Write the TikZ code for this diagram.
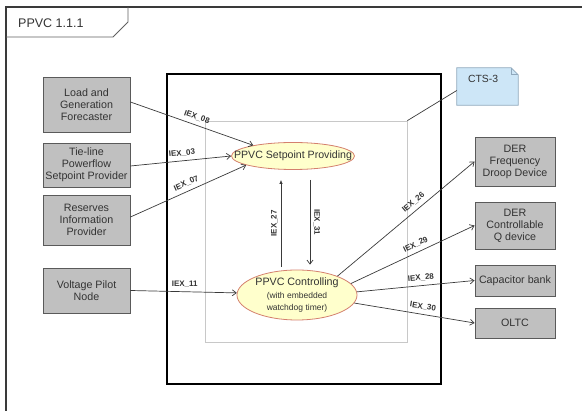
\documentclass[tikz,border=0pt]{standalone}
\usepackage{fontspec}
\setmainfont{Liberation Sans}
\usetikzlibrary{shapes.geometric,arrows.meta,calc}
\definecolor{boxgray}{HTML}{C0C0C0}
\definecolor{boxborder}{HTML}{5A5A5A}
\definecolor{textgray}{HTML}{333333}
\definecolor{ellfill}{HTML}{FFFFCC}
\definecolor{ellborder}{HTML}{D4806E}
\definecolor{notefill}{HTML}{CDE6F7}
\definecolor{noteborder}{HTML}{8FA8BC}
\definecolor{linegray}{HTML}{3A3A3A}
\definecolor{panelgray}{HTML}{C8C8C8}
\begin{document}
\begin{tikzpicture}[x=1pt,y=-1pt,
  srcbox/.style={draw=boxborder, fill=boxgray, line width=0.9pt, align=center,
    font=\fontsize{10.7}{12}\selectfont, text=textgray, inner sep=0pt, minimum width=87pt},
  dstbox/.style={srcbox, minimum width=80pt},
  funcell/.style={ellipse, draw=ellborder, fill=ellfill, line width=0.8pt, inner sep=0pt},
  conn/.style={draw=linegray, line width=0.7pt},
  arr/.style={conn, -{Straight Barb[length=4pt,width=6pt]}},
  lbl/.style={font=\fontsize{8}{9}\selectfont\bfseries, text=textgray, inner sep=1pt}
]
\useasboundingbox (0,0) rectangle (582,411);

% outer frame and tab
\draw[draw=linegray, line width=1.3pt] (582,7) -- (6,7) -- (6,411);
\draw[draw=linegray!80, line width=0.8pt] (128,7) -- (128,22) -- (113,37) -- (6,37);
\node[anchor=west, font=\fontsize{12.5}{14}\selectfont, text=textgray, inner sep=0pt] (title) at (18,23) {PPVC 1.1.1};

% system boundary boxes
\node[draw=black, line width=1.5pt, minimum width=274pt, minimum height=310pt, inner sep=0pt] (sys) at (304,229) {};
\node[draw=panelgray, line width=0.7pt, minimum width=202pt, minimum height=221pt, inner sep=0pt] (panel) at (306,231.5) {};

% note
\node[minimum width=61pt, minimum height=37pt, inner sep=0pt] (cts) at (487.5,86.5) {};
\filldraw[fill=notefill, draw=noteborder, line width=0.7pt]
  (cts.north west) -- ([xshift=-7pt]cts.north east) -- ([yshift=-7pt]cts.north east)
  -- (cts.south east) -- (cts.south west) -- cycle;
\draw[draw=noteborder, line width=0.6pt] ([xshift=-7pt]cts.north east) -- ([xshift=-7pt,yshift=-7pt]cts.north east) -- ([yshift=-7pt]cts.north east);
\node[anchor=north west, font=\fontsize{10.4}{12}\selectfont, text=textgray, inner sep=1pt] (ctstext) at ([xshift=10pt,yshift=-6pt]cts.north west) {CTS-3};
\draw[conn] (panel.north east) -- ([yshift=-4pt]cts.west);

% left boxes
\node[srcbox, minimum height=55pt] (load) at (86.5,104.5) {Load and\\Generation\\Forecaster};
\node[srcbox, minimum height=44pt] (tie) at (86.5,165) {Tie-line\\Powerflow\\Setpoint Provider};
\node[srcbox, minimum height=50pt] (res) at (86.5,220) {Reserves\\Information\\Provider};
\node[srcbox, minimum height=45pt] (vpn) at (86.5,290.5) {Voltage Pilot\\Node};

% right boxes
\node[dstbox, minimum height=49pt] (derf) at (515,161.5) {DER\\Frequency\\Droop Device};
\node[dstbox, minimum height=47pt] (derq) at (515,225.5) {DER\\Controllable\\Q device};
\node[dstbox, minimum height=31pt] (cap) at (515,280.5) {Capacitor bank};
\node[dstbox, minimum height=30pt] (oltc) at (515,323) {OLTC};

% functions
\node[funcell, minimum width=123pt, minimum height=27pt,
  label={[font=\fontsize{10.6}{12}\selectfont, text=textgray, inner sep=0pt]center:PPVC Setpoint Providing}] (setp) at (293,156) {};
\node[funcell, minimum width=120pt, minimum height=50pt,
  label={[align=center, text=textgray, inner sep=0pt]center:{\fontsize{10.7}{12}\selectfont PPVC Controlling}\\[1pt]{\fontsize{8.5}{10}\selectfont (with embedded}\\{\fontsize{8.5}{10}\selectfont watchdog timer)}}] (ctrl) at (297,295) {};

% inputs
\draw[arr] ([yshift=2.5pt]load.east) -- node[lbl, pos=0.52, sloped, above=3pt] {IEX\_08} (setp.165);
\draw[arr] ([yshift=-1pt]tie.east) -- node[lbl, pos=0.52, sloped, above=3pt] {IEX\_03} (setp.180);
\draw[arr] ([yshift=3pt]res.east) -- node[lbl, pos=0.51, sloped, above=3pt] {IEX\_07} (setp.191);
\draw[arr] (vpn.east) -- node[lbl, pos=0.51, above=3pt] {IEX\_11} (ctrl.178);

% internal
\draw[conn, -{Latex[length=4pt,width=3.5pt]}] ([xshift=-16pt,yshift=3pt]ctrl.north) -- node[lbl, midway, rotate=90, anchor=south, yshift=2pt] {IEX\_27} ([xshift=-12pt,yshift=-10pt]setp.south);
\draw[arr] ([xshift=17pt,yshift=-10pt]setp.south) -- node[lbl, midway, rotate=-90, anchor=south, yshift=2pt] {IEX\_31} ([xshift=13pt,yshift=5pt]ctrl.north);

% outputs
\draw[arr] (ctrl.25) -- node[lbl, pos=0.59, sloped, above=3pt] {IEX\_26} (derf.west);
\draw[arr] (ctrl.12) -- node[lbl, pos=0.55, sloped, above=3pt] {IEX\_29} (derq.west);
\draw[arr] (ctrl.3) -- node[lbl, pos=0.55, sloped, above=3pt] {IEX\_28} (cap.west);
\draw[arr] (ctrl.352) -- node[lbl, pos=0.56, sloped, above=3pt] {IEX\_30} (oltc.west);
\end{tikzpicture}
\end{document}
